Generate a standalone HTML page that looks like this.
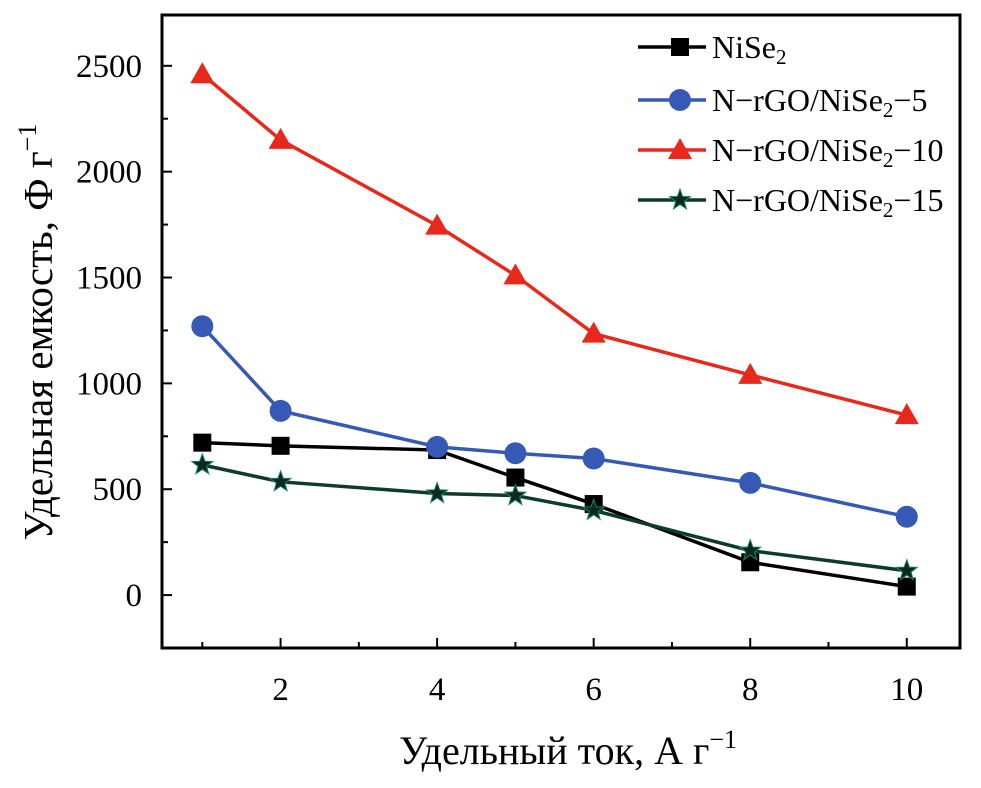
<!DOCTYPE html>
<html><head><meta charset="utf-8"><style>
body{margin:0;background:#fff}
svg text{font-family:"Liberation Serif",serif;fill:#000}
</style></head><body>
<svg id="c" width="981" height="783" xmlns="http://www.w3.org/2000/svg"></svg>
<script>
const xValues=[1,2,4,5,6,8,10];
const sNiSe2=[720,705,685,555,430,155,40];
const s5=[1270,870,700,670,645,530,370];
const s10=[2460,2150,1745,1510,1235,1040,850];
const s15=[615,535,480,470,400,210,115];
const yTicks=[0,500,1000,1500,2000,2500];
const xTicks=[2,4,6,8,10];
const seriesNames=["NiSe2","N-rGO/NiSe2-5","N-rGO/NiSe2-10","N-rGO/NiSe2-15"];

const L=162,R=960,T=15,B=648;
const X0=0.485,X1=10.68,Y0=-250,Y1=2740;
const sx=v=>L+(v-X0)/(X1-X0)*(R-L);
const sy=v=>B-(v-Y0)/(Y1-Y0)*(B-T);
const svg=document.getElementById('c');
const NS="http://www.w3.org/2000/svg";
function mk(t,a,p){const e=document.createElementNS(NS,t);for(const k in a)e.setAttribute(k,a[k]);(p||svg).appendChild(e);return e;}

let f=mk('rect',{x:L,y:T,width:R-L,height:B-T,fill:'none',stroke:'#000','stroke-width':3});



for(let v=-250;v<=2740;v+=250){
  const major=v%500===0;
  let t=mk('line',{x1:L,x2:L+(major?10:6),y1:sy(v),y2:sy(v),stroke:'#000','stroke-width':2});
  
  
}
yTicks.forEach(v=>{
  let t=mk('text',{x:L-20,y:sy(v)+11,'text-anchor':'end','font-size':33});
  t.textContent=v;
  
  
});
for(let v=1;v<=10;v++){
  const major=v%2===0;
  let t=mk('line',{x1:sx(v),x2:sx(v),y1:B,y2:B-(major?10:6),stroke:'#000','stroke-width':2});
  
  
}
xTicks.forEach(v=>{
  let t=mk('text',{x:sx(v),y:B+52,'text-anchor':'middle','font-size':33});
  t.textContent=v;
  
  
});

let yl=mk('text',{x:0,y:0,transform:'translate(52,332) rotate(-90)','text-anchor':'middle','font-size':41});
yl.innerHTML='Удельная емкость, Ф г<tspan dy="-16" font-size="26">−1</tspan>';


let xl=mk('text',{x:568,y:764,'text-anchor':'middle','font-size':40});
xl.innerHTML='Удельный ток, А г<tspan dy="-16" font-size="26">−1</tspan>';



function marker(type,x,y,color,g){
  if(type==='sq')return mk('rect',{x:x-9,y:y-9,width:18,height:18,fill:color},g);
  if(type==='ci')return mk('circle',{cx:x,cy:y,r:11,fill:color},g);
  if(type==='tr')return mk('polygon',{points:`${x},${y-12} ${x+12},${y+9} ${x-12},${y+9}`,fill:color},g);
  let p=[];for(let i=0;i<10;i++){const r=i%2?4.5:11,a=-Math.PI/2+i*Math.PI/5;p.push((x+r*Math.cos(a)).toFixed(1)+','+(y+r*Math.sin(a)).toFixed(1));}
  return mk('polygon',{points:p.join(' '),fill:'#0a2a1a',stroke:'#1a8070','stroke-width':1},g);
}
const series=[[sNiSe2,'#000','sq','series-nise2'],[s5,'#3559b5','ci','series-nrgo-5'],[s10,'#e8281b','tr','series-nrgo-10'],[s15,'#0e3b2a','st','series-nrgo-15']];
series.forEach(([d,c,m,n])=>{
  const g=mk('g',{});
  
  
  mk('polyline',{points:d.map((v,i)=>sx(xValues[i])+','+sy(v)).join(' '),fill:'none',stroke:c,'stroke-width':3.5},g);
  d.forEach((v,i)=>{
    const e=marker(m,sx(xValues[i]),sy(v),c,g);
    
    
  });
});

const ly=[47,100,150,200];
series.forEach(([d,c,m,n],i)=>{
  const g=mk('g',{});
  
  
  mk('line',{x1:638,x2:706,y1:ly[i],y2:ly[i],stroke:c,'stroke-width':3.5},g);
  marker(m,680,ly[i],c,g);
  const t=mk('text',{x:712,y:ly[i]+11,'font-size':32},g);
  const nm=seriesNames[i];
  const idx=nm.indexOf('Se2');
  t.innerHTML=nm.slice(0,idx+2).replace(/-/g,'−')+'<tspan font-size="21" dy="6">2</tspan><tspan dy="-6">'+nm.slice(idx+3).replace(/-/g,'−')+'</tspan>';
});
</script>
</body></html>
